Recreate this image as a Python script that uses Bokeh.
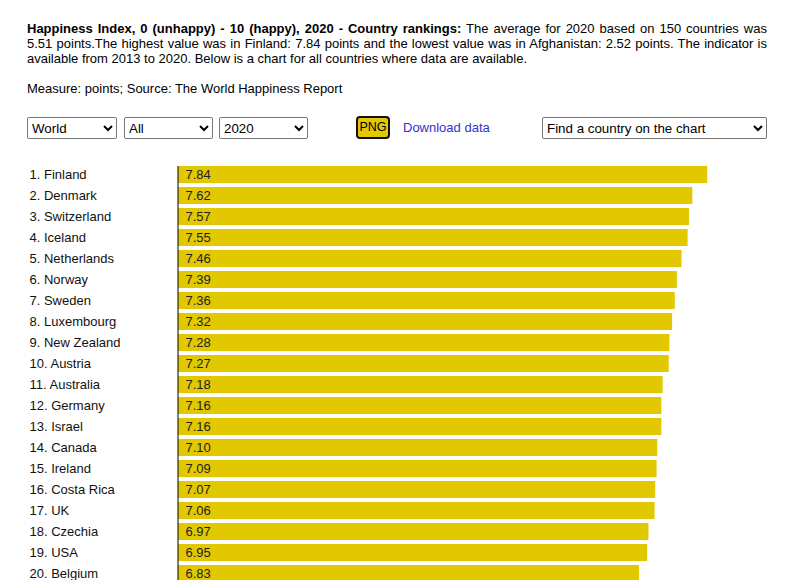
from bokeh.plotting import figure
from bokeh.models import ColumnDataSource, Range1d, Div
from bokeh.layouts import column
from bokeh.core.properties import value
from bokeh.embed import file_html
from bokeh.resources import INLINE

# ---- data ----
countries = ["Finland", "Denmark", "Switzerland", "Iceland", "Netherlands", "Norway",
             "Sweden", "Luxembourg", "New Zealand", "Austria", "Australia", "Germany",
             "Israel", "Canada", "Ireland", "Costa Rica", "UK", "Czechia", "USA", "Belgium"]
scores = [7.84, 7.62, 7.57, 7.55, 7.46, 7.39, 7.36, 7.32, 7.28, 7.27, 7.18, 7.16,
          7.16, 7.10, 7.09, 7.07, 7.06, 6.97, 6.95, 6.83]
ranks = list(range(1, len(countries) + 1))

FONT = "Liberation Sans"
BAR = "#e1c800"

labels = [f"{r}. {c}" for r, c in zip(ranks, countries)]
vals = [f"{v:.2f}" for v in scores]

SEL = (f"position:absolute;height:22px;font-family:'{FONT}';font-size:13.33px;"
       "background:#fff;color:#000;border:1px solid #767676;border-radius:2px;box-sizing:border-box;")

# ---- header (html) ----
header_html = f"""
<div style="position:relative;width:798px;height:160px;font-family:'{FONT}',Arial,sans-serif;font-size:13px;color:#000;">
  <div style="position:absolute;left:27px;top:21px;width:740px;text-align:justify;line-height:normal;"><b>Happiness Index, 0 (unhappy) - 10 (happy), 2020 - Country rankings:</b><span> The average for 2020 based on 150 countries was 5.51 points.The highest value was in Finland: 7.84 points and the lowest value was in Afghanistan: 2.52 points. The indicator is available from 2013 to 2020. Below is a chart for all countries where data are available.</span><br><br><span>Measure: points; Source: The World Happiness Report</span></div>
  <select style="{SEL}left:27px;top:117px;width:90px;"><option>World</option></select>
  <select style="{SEL}left:124px;top:117px;width:89px;"><option>All</option></select>
  <select style="{SEL}left:219px;top:117px;width:89px;"><option>2020</option></select>
  <div style="position:absolute;left:356px;top:116px;width:34px;height:23px;box-sizing:border-box;background:{BAR};border:2px solid #111;border-radius:4px;display:flex;align-items:center;justify-content:center;font-size:12.5px;padding:0;">PNG</div>
  <div style="position:absolute;left:403px;top:119px;color:#3333cc;font-size:13px;">Download data</div>
  <select style="{SEL}left:542px;top:117px;width:225px;"><option>Find a country on the chart</option></select>
</div>
"""
head = Div(text=header_html, width=798, height=160, margin=(0, 0, 0, 0))

# ---- bar chart ----
W, H = 798, 420
PX = 67.5            # pixels per point
X0 = 177.5           # pixel offset of zero line within figure
ROW = 21.0           # pixels per row
TOP = 1 - 14.0 / ROW # data value at top edge

p = figure(width=W, height=H, output_backend="svg", toolbar_location=None,
           x_range=Range1d(-X0 / PX, (W - X0) / PX),
           y_range=Range1d(TOP + H / ROW, TOP),
           x_axis_type=None, y_axis_type=None, min_border=0,
           margin=(0, 0, 0, 0))
p.outline_line_color = None
p.grid.visible = False
p.background_fill_color = "white"
p.border_fill_color = "white"

src = ColumnDataSource(dict(rank=ranks, score=scores, label=labels, val=vals,
                            lx=[-148.5 / PX] * len(ranks), vx=[7.5 / PX] * len(ranks)))

p.hbar(y="rank", left=0, right="score", height=0.8, source=src,
       fill_color=BAR, line_color=None)
p.segment(x0=[0], y0=[0.6], x1=[0], y1=[TOP + H / ROW], line_color="black", line_width=1)

p.text(x="lx", y="rank", text="label", source=src, text_font=value(FONT),
       text_font_size="13px", text_baseline="middle", text_align="left", text_color="#111")
p.text(x="vx", y="rank", text="val", source=src, text_font=value(FONT),
       text_font_size="13px", text_baseline="middle", text_align="left", text_color="#222")

layout = column(head, p, spacing=0, margin=(0, 0, 0, 0))

open("out.html", "w").write(file_html(layout, INLINE))
